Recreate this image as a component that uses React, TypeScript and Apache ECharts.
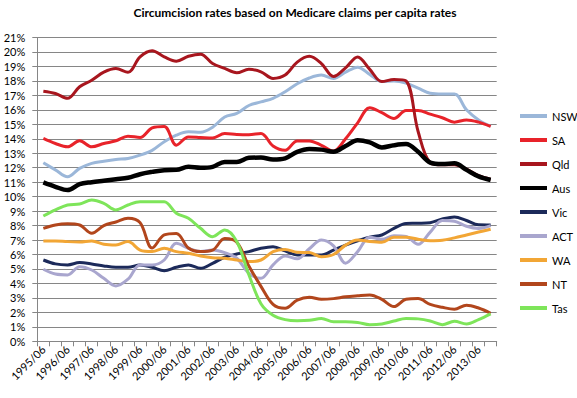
import React, { useEffect, useRef } from 'react';
import * as echarts from 'echarts';

const categories = [
  '1995/06', '1995/12', '1996/06', '1996/12', '1997/06', '1997/12', '1998/06', '1998/12',
  '1999/06', '1999/12', '2000/06', '2000/12', '2001/06', '2001/12', '2002/06', '2002/12',
  '2003/06', '2003/12', '2004/06', '2004/12', '2005/06', '2005/12', '2006/06', '2006/12',
  '2007/06', '2007/12', '2008/06', '2008/12', '2009/06', '2009/12', '2010/06', '2010/12',
  '2011/06', '2011/12', '2012/06', '2012/12', '2013/06', '2013/12',
];

const nsw = [12.34, 11.85, 11.37, 11.95, 12.3, 12.45, 12.57, 12.64, 12.87, 13.2, 13.8, 14.25, 14.48, 14.45, 14.8, 15.5, 15.75, 16.3, 16.55, 16.8, 17.25, 17.8, 18.2, 18.4, 18.17, 18.6, 18.95, 18.45, 17.95, 18.0, 17.85, 17.5, 17.15, 17.1, 17.1, 16.0, 15.3, 14.85];
const sa = [14.02, 13.67, 13.44, 13.86, 13.44, 13.67, 13.86, 14.18, 14.09, 14.75, 14.85, 13.56, 14.13, 14.09, 14.05, 14.36, 14.3, 14.28, 14.36, 13.5, 13.2, 13.85, 13.85, 13.55, 13.15, 14.0, 15.1, 16.15, 15.8, 15.4, 15.95, 15.95, 15.7, 15.45, 15.15, 15.3, 15.15, 14.85];
const qld = [17.29, 17.13, 16.8, 17.6, 18.05, 18.6, 18.85, 18.6, 19.66, 20.08, 19.66, 19.36, 19.7, 19.85, 19.2, 18.86, 18.56, 18.8, 18.63, 18.17, 18.4, 19.3, 19.7, 19.2, 18.3, 18.9, 19.66, 18.8, 17.95, 18.1, 18.0, 14.5, 12.35, 12.2, 12.2, 11.9, 11.45, 11.2];
const aus = [10.98, 10.68, 10.45, 10.86, 11.0, 11.1, 11.2, 11.3, 11.55, 11.71, 11.83, 11.85, 12.06, 11.99, 12.06, 12.4, 12.4, 12.68, 12.7, 12.57, 12.65, 13.1, 13.3, 13.25, 13.1, 13.5, 13.9, 13.75, 13.4, 13.55, 13.63, 13.1, 12.35, 12.25, 12.3, 11.85, 11.4, 11.15];
const vic = [5.62, 5.35, 5.28, 5.44, 5.35, 5.21, 5.12, 5.12, 5.28, 5.12, 4.88, 5.12, 5.28, 5.05, 5.39, 5.81, 6.04, 6.2, 6.43, 6.54, 6.25, 5.97, 5.97, 5.97, 6.3, 6.65, 6.95, 7.2, 7.35, 7.8, 8.15, 8.16, 8.2, 8.45, 8.6, 8.35, 8.05, 8.04];
const act = [4.98, 4.65, 4.59, 5.16, 4.93, 4.35, 3.83, 4.29, 5.28, 5.28, 5.62, 6.77, 6.43, 6.2, 6.31, 6.13, 5.74, 4.7, 4.35, 5.28, 5.9, 5.7, 6.4, 7.0, 6.6, 5.4, 6.2, 7.2, 7.05, 7.3, 7.25, 6.7, 7.55, 8.35, 8.3, 7.95, 7.8, 8.0];
const wa = [6.94, 6.94, 6.89, 6.87, 6.94, 6.71, 6.66, 6.89, 6.31, 6.2, 6.43, 6.2, 6.08, 5.9, 5.78, 5.74, 5.62, 5.51, 5.62, 6.2, 6.35, 6.15, 6.13, 5.85, 6.0, 6.65, 7.0, 6.9, 6.85, 7.2, 7.2, 7.05, 6.95, 6.98, 7.15, 7.35, 7.55, 7.75];
const nt = [7.81, 8.04, 8.12, 8.04, 7.47, 8.0, 8.25, 8.5, 8.2, 6.45, 7.35, 7.45, 6.45, 6.2, 6.3, 7.1, 6.85, 5.2, 3.8, 2.55, 2.28, 2.85, 3.05, 2.9, 2.95, 3.08, 3.15, 3.2, 2.9, 2.4, 2.9, 2.95, 2.55, 2.35, 2.22, 2.5, 2.3, 1.94];
const tas = [8.66, 9.08, 9.42, 9.49, 9.77, 9.54, 9.08, 9.42, 9.65, 9.65, 9.65, 8.85, 8.5, 7.81, 7.23, 7.7, 6.9, 4.6, 2.6, 1.8, 1.5, 1.42, 1.45, 1.58, 1.35, 1.35, 1.3, 1.15, 1.2, 1.4, 1.58, 1.55, 1.4, 1.15, 1.38, 1.2, 1.5, 1.9];

const seriesNames = ['NSW', 'SA', 'Qld', 'Aus', 'Vic', 'ACT', 'WA', 'NT', 'Tas'];
const seriesValues = [nsw, sa, qld, aus, vic, act, wa, nt, tas];
const seriesColors = ['#9BB7D9', '#E8232A', '#A8161E', '#000000', '#1C2A5A', '#A9A6CE', '#F2A635', '#B2461C', '#7EE55A'];
const seriesWidths = [3, 3, 3, 4.5, 3, 3, 3, 3, 3];

const titleText = 'Circumcision rates based on Medicare claims per capita rates';
const FONT = 'Lato, "Noto Sans", sans-serif';

export default function App() {
  const ref = useRef<HTMLDivElement>(null);
  useEffect(() => {
    const chart = echarts.init(ref.current as HTMLDivElement, null, { renderer: 'svg' });
    chart.setOption({
      animation: false,
      backgroundColor: '#ffffff',
      title: {
        text: titleText,
        left: 295,
        top: 6,
        padding: 0,
        textAlign: 'center',
        textStyle: { fontFamily: FONT, fontSize: 12, fontWeight: 'bold', color: '#000' },
      },
      legend: {
        orient: 'vertical',
        left: 520,
        top: 109,
        padding: 0,
        itemGap: 10,
        itemWidth: 27,
        itemHeight: 4,
        icon: 'rect',
        data: seriesNames,
        textStyle: { fontFamily: FONT, fontSize: 11, color: '#000', lineHeight: 14 },
      },
      grid: { left: 37.3, top: 37.5, width: 459.4, height: 303.8, containLabel: false },
      xAxis: {
        type: 'category',
        data: categories,
        boundaryGap: true,
        axisLine: { lineStyle: { color: '#868686', width: 1 } },
        axisTick: { show: true, interval: 0, length: 5, lineStyle: { color: '#868686' } },
        axisLabel: { interval: 1, rotate: 45, margin: 6, fontFamily: FONT, fontSize: 11, color: '#000' },
        splitLine: { show: false },
      },
      yAxis: {
        type: 'value',
        min: 0,
        max: 21,
        interval: 1,
        axisLine: { show: true, lineStyle: { color: '#868686', width: 1 } },
        axisTick: { show: true, length: 5, lineStyle: { color: '#868686' } },
        axisLabel: { formatter: '{value}%', margin: 12, fontFamily: FONT, fontSize: 11, color: '#000' },
        splitLine: { show: true, lineStyle: { color: '#868686', width: 1 } },
      },
      series: seriesNames.map((name, k) => ({
        name,
        type: 'line',
        data: seriesValues[k],
        smooth: 0.35,
        symbol: 'none',
        showSymbol: false,
        color: seriesColors[k],
        lineStyle: { color: seriesColors[k], width: seriesWidths[k] },
      })),
    });
    return () => chart.dispose();
  }, []);
  return (
    <div
      ref={ref}
      style={{ position: 'absolute', left: 0, top: 0, width: 577, height: 398, background: '#fff' }}
    />
  );
}
